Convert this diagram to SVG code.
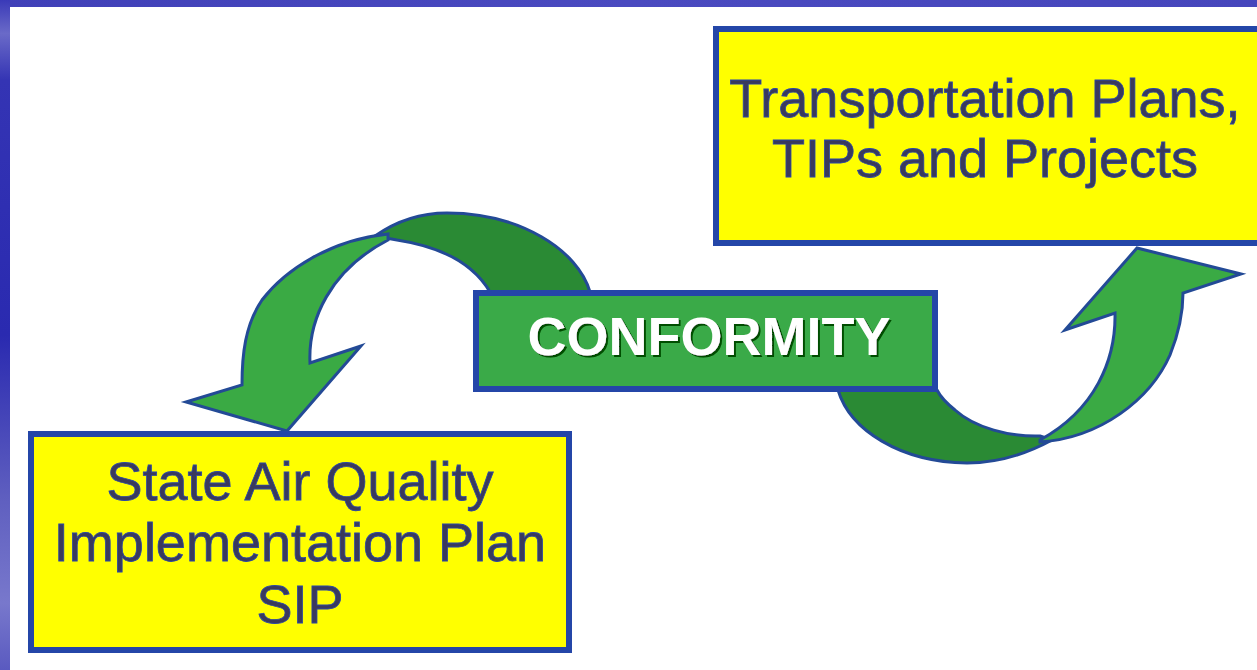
<svg xmlns="http://www.w3.org/2000/svg" width="1257" height="670" viewBox="0 0 1257 670">
  <defs>
    <linearGradient id="sideBar" x1="0" y1="0" x2="0" y2="1">
      <stop offset="0" stop-color="#3a3ab8"/>
      <stop offset="0.05" stop-color="#6a6ac8"/>
      <stop offset="0.12" stop-color="#3434b4"/>
      <stop offset="0.5" stop-color="#2a2ab0"/>
      <stop offset="0.75" stop-color="#6060c0"/>
      <stop offset="0.9" stop-color="#7878cc"/>
      <stop offset="1" stop-color="#5a5ac0"/>
    </linearGradient>
    <linearGradient id="topBar" x1="0" y1="0" x2="1" y2="0">
      <stop offset="0" stop-color="#4040b8"/>
      <stop offset="0.5" stop-color="#4a4ac0"/>
      <stop offset="1" stop-color="#4646bc"/>
    </linearGradient>
    <!-- dark green embossed shadow behind the hub label -->
    <filter id="hubShadow" x="-5%" y="-20%" width="110%" height="140%">
      <feDropShadow dx="2" dy="2" stdDeviation="0.6" flood-color="#064e06" flood-opacity="1"/>
    </filter>
  </defs>
  <style>
    .box { fill: #ffff00; stroke: #2446a8; stroke-width: 6; }
    .label { font-family: "Liberation Sans", Arial, sans-serif; font-size: 54px; fill: #3a3a5c; stroke: #2a46a8; stroke-width: 0.8; text-anchor: middle; }
    .band-back { fill: #2a8a34; stroke: #234a96; stroke-width: 3; stroke-linejoin: round; }
    .band-front { fill: #3aaa44; stroke: #234a96; stroke-width: 3; stroke-linejoin: miter; }
    .hub { fill: #3aaa48; stroke: #2446a8; stroke-width: 6; }
    .hub-text { font-family: "Liberation Sans", Arial, sans-serif; font-size: 54px; font-weight: bold; text-anchor: middle; fill: #ffffff; }
  </style>

  <!-- page background with blue frame -->
  <rect x="0" y="0" width="1257" height="670" fill="#ffffff"/>
  <rect x="0" y="0" width="1257" height="7" fill="url(#topBar)"/>
  <rect x="0" y="0" width="10" height="670" fill="url(#sideBar)"/>

  <!-- curved arrows -->
  <g id="connectors">
    <!-- from CONFORMITY to SIP -->
    <path class="band-back" d="M 590 292 C 578 250, 520 213, 447 213 C 418 213, 395 222, 375 236 L 397 240 C 430 245, 470 258, 490 292 Z"/>
    <path class="band-front" d="M 388 234 C 330 240, 285 270, 262 300 C 245 325, 242 355, 242 385 L 186 402 L 287 431 L 361 346 L 310 363 C 308 320, 330 270, 388 240 Z"/>
    <!-- from CONFORMITY to transportation plans -->
    <path class="band-back" d="M 838 390 C 850 430, 900 462, 967 463 C 1000 463, 1030 452, 1052 440 L 1040 436 C 1010 437, 975 428, 955 410 C 945 402, 940 396, 937 390 Z"/>
    <path class="band-front" d="M 1040 442 C 1100 438, 1150 400, 1170 355 C 1180 330, 1183 310, 1183 293 L 1241 274 L 1137 248 L 1065 330 L 1115 313 C 1116 360, 1095 410, 1040 440 Z"/>
  </g>

  <g id="transportation">
    <rect class="box" x="716" y="29" width="545" height="214"/>
    <text class="label" x="985" y="117">Transportation Plans,</text>
    <text class="label" x="985" y="177">TIPs and Projects</text>
  </g>

  <g id="conformity">
    <rect class="hub" x="476" y="293" width="459" height="96"/>
    <text class="hub-text" x="709" y="355" filter="url(#hubShadow)">CONFORMITY</text>
  </g>

  <g id="sip">
    <rect class="box" x="31" y="434" width="538" height="216"/>
    <text class="label" x="300" y="500">State Air Quality</text>
    <text class="label" x="300" y="561">Implementation Plan</text>
    <text class="label" x="300" y="623">SIP</text>
  </g>
</svg>
